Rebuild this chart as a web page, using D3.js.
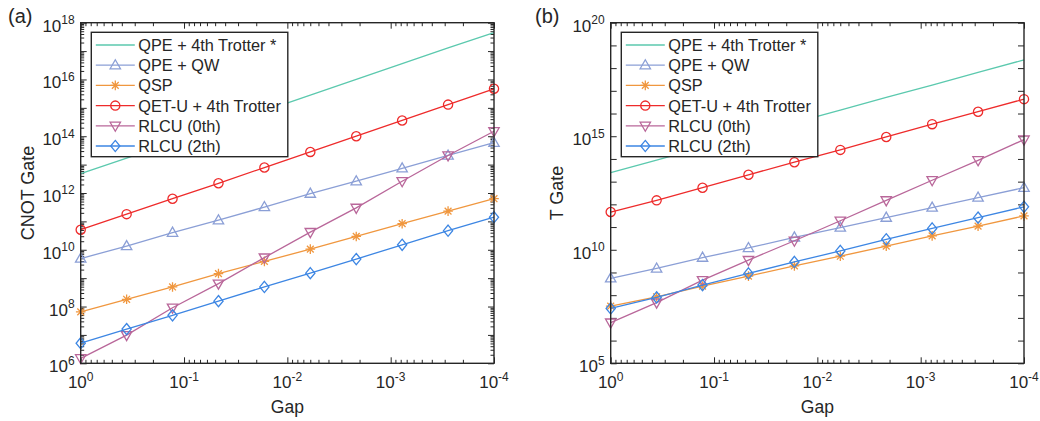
<!DOCTYPE html>
<html>
<head>
<meta charset="utf-8">
<script src="https://cdn.jsdelivr.net/npm/d3@7"></script>
<style>
  body { margin: 0; background: #fff; }
  text { font-family: "Liberation Sans", Arial, Helvetica, sans-serif; fill: #262626; }
</style>
</head>
<body>
<svg id="chart" width="1040" height="421"></svg>
<script>
// gap values (x), same for every series
const gap = [1, 0.3594, 0.1292, 0.04642, 0.01668, 0.005995, 0.002154, 0.0007743, 0.0002783, 0.0001];

const seriesNames = ["QPE + 4th Trotter *", "QPE + QW", "QSP", "QET-U + 4th Trotter", "RLCU (0th)", "RLCU (2th)"];

// (a) CNOT gate counts
const cnotQpeTrotter = [4.8e12, 1.7e13, 6.1e13, 2.2e14, 7.8e14, 2.8e15, 1.0e16, 3.6e16, 1.3e17, 4.5e17];
const cnotQpeQw      = [4.9e9, 1.35e10, 4.0e10, 1.1e11, 3.2e11, 9.5e11, 2.6e12, 7.4e12, 2.1e13, 5.9e13];
const cnotQsp        = [6.5e7, 1.8e8, 4.9e8, 1.45e9, 3.9e9, 1.05e10, 2.95e10, 8.3e10, 2.3e11, 6.3e11];
const cnotQetu       = [5.1e10, 1.8e11, 6.3e11, 2.2e12, 7.9e12, 2.8e13, 1.0e14, 3.6e14, 1.3e15, 4.7e15];
const cnotRlcu0      = [1.5e6, 9.8e6, 9.1e7, 6.4e8, 5.3e9, 4.2e10, 3.0e11, 2.6e12, 2.1e13, 1.5e14];
const cnotRlcu2      = [5.1e6, 1.6e7, 4.9e7, 1.55e8, 4.9e8, 1.5e9, 4.7e9, 1.5e10, 4.7e10, 1.4e11];

// (b) T gate counts
const tQpeTrotter = [2.5e13, 8.9e13, 3.2e14, 1.1e15, 4.0e15, 1.4e16, 5.1e16, 1.8e17, 6.5e17, 2.3e18];
const tQpeQw      = [5.5e8, 1.5e9, 4.5e9, 1.2e10, 3.5e10, 9.5e10, 2.6e11, 7.2e11, 2.0e12, 5.4e12];
const tQsp        = [3.3e7, 8.5e7, 2.5e8, 6.9e8, 1.95e9, 5.2e9, 1.45e10, 4.1e10, 1.1e11, 3.1e11];
const tQetu       = [4.6e11, 1.5e12, 5.4e12, 2.0e13, 7.2e13, 2.5e14, 9.3e14, 3.4e15, 1.2e16, 4.3e16];
const tRlcu0      = [6.2e6, 4.7e7, 4.6e8, 3.5e9, 2.5e10, 1.9e11, 1.5e12, 1.15e13, 8.7e13, 7.1e14];
const tRlcu2      = [2.6e7, 8.0e7, 2.8e8, 9.1e8, 2.9e9, 8.9e9, 2.9e10, 8.7e10, 2.6e11, 7.8e11];

// tick label exponents
const gapTickExps  = [0, -1, -2, -3, -4];
const cnotTickExps = [6, 8, 10, 12, 14, 16, 18];
const tTickExps    = [5, 10, 15, 20];

const colors  = ["#5bc9ae", "#8b9fd6", "#f0973f", "#ee2b2b", "#b9679a", "#3d86e3"];
const markers = ["none", "triUp", "star", "circle", "triDown", "diamond"];

const svg = d3.select("#chart");
const axisColor = "#262626";
const padTop = 22.7, pw = 413.3, ph = 340.6;

function markerPath(type) {
  switch (type) {
    case "triUp":   return "M0,-5.5L5.2,3.6L-5.2,3.6Z";
    case "triDown": return "M0,5.5L5.2,-3.6L-5.2,-3.6Z";
    case "diamond": return "M0,-5.6L4.6,0L0,5.6L-4.6,0Z";
    case "star":    return "M-4.8,0L4.8,0M0,-4.8L0,4.8M-3.4,-3.4L3.4,3.4M-3.4,3.4L3.4,-3.4";
    case "circle":  return "M4.6,0A4.6,4.6 0 1,1 -4.6,0A4.6,4.6 0 1,1 4.6,0Z";
  }
  return null;
}

function drawPanel(opts) {
  const g = svg.append("g").attr("transform", "translate(" + opts.left + "," + padTop + ")");

  const x = d3.scaleLog().domain([1, 1e-4]).range([0, pw]);
  const y = d3.scaleLog().domain(opts.yDomain).range([ph, 0]);

  // ticks (inward, all four sides)
  const xMajor = gapTickExps.map(e => Math.pow(10, e));
  const xMinor = x.ticks().filter(v => xMajor.indexOf(v) < 0);
  const e0 = Math.round(Math.log10(opts.yDomain[0])), e1 = Math.round(Math.log10(opts.yDomain[1]));
  const yMajor = d3.range(e0, e1 + 1).map(e => Math.pow(10, e));
  const yMinor = [];
  if (opts.yMinor) {
    d3.range(e0, e1).forEach(e => { for (let m = 2; m < 10; m++) yMinor.push(m * Math.pow(10, e)); });
  }

  function axisPart(axis, tr, vals, size) {
    const a = g.append("g").attr("transform", tr)
      .call(axis.tickValues(vals).tickSize(-size).tickSizeOuter(0).tickFormat(""));
    a.select(".domain").remove();
    a.selectAll("line").attr("stroke", axisColor).attr("stroke-width", 1);
  }
  axisPart(d3.axisBottom(x), "translate(0," + ph + ")", xMajor, 6);
  axisPart(d3.axisBottom(x), "translate(0," + ph + ")", xMinor, 3.5);
  axisPart(d3.axisTop(x), "translate(0,0)", xMajor, 6);
  axisPart(d3.axisTop(x), "translate(0,0)", xMinor, 3.5);
  axisPart(d3.axisLeft(y), "translate(0,0)", yMajor, 6);
  axisPart(d3.axisRight(y), "translate(" + pw + ",0)", yMajor, 6);
  if (yMinor.length) {
    axisPart(d3.axisLeft(y), "translate(0,0)", yMinor, 3.5);
    axisPart(d3.axisRight(y), "translate(" + pw + ",0)", yMinor, 3.5);
  }

  // series
  const line = d3.line().x(d => x(d[0])).y(d => y(d[1]));
  opts.series.forEach((vals, i) => {
    const pts = gap.map((gv, j) => [gv, vals[j]]);
    g.append("path").datum(pts)
      .attr("d", line).attr("fill", "none")
      .attr("stroke", colors[i]).attr("stroke-width", 1.3);
    const mp = markerPath(markers[i]);
    if (mp) {
      g.selectAll(null).data(pts).enter().append("path")
        .attr("transform", d => "translate(" + x(d[0]) + "," + y(d[1]) + ")")
        .attr("d", mp).attr("fill", "none")
        .attr("stroke", colors[i]).attr("stroke-width", 1.3);
    }
  });

  // box
  g.append("rect").attr("width", pw).attr("height", ph)
    .attr("fill", "none").attr("stroke", axisColor).attr("stroke-width", 1.4);

  // tick labels
  gapTickExps.forEach(e => {
    const t = g.append("text").attr("x", x(Math.pow(10, e))).attr("y", ph + 25)
      .attr("text-anchor", "middle").style("font-size", "17px").text("10");
    t.append("tspan").attr("dy", -7.5).style("font-size", "12px").text(e);
  });
  opts.yTickExps.forEach(e => {
    const t = g.append("text").attr("x", -6).attr("y", y(Math.pow(10, e)) + 9)
      .attr("text-anchor", "end").style("font-size", "17px").text("10");
    t.append("tspan").attr("dy", -7.5).style("font-size", "12px").text(e);
  });

  // axis titles
  g.append("text").attr("x", pw / 2).attr("y", ph + 50)
    .attr("text-anchor", "middle").style("font-size", "17.5px").text("Gap");
  g.append("text").attr("transform", "translate(" + opts.yTitleX + "," + (ph / 2) + ") rotate(-90)")
    .attr("text-anchor", "middle").style("font-size", "18px").text(opts.yTitle);

  // panel tag
  svg.append("text").attr("x", opts.tagX).attr("y", 23)
    .style("font-size", "20px").text(opts.tag);

  // legend
  const lg = g.append("g").attr("transform", "translate(10.6,9.6)");
  lg.append("rect").attr("width", 196.5).attr("height", 124.4)
    .attr("fill", "#fff").attr("stroke", axisColor).attr("stroke-width", 1.4);
  seriesNames.forEach((name, i) => {
    const ry = 12.7 + i * 20.2;
    lg.append("line").attr("x1", 4.5).attr("x2", 43.5).attr("y1", ry).attr("y2", ry)
      .attr("stroke", colors[i]).attr("stroke-width", 1.3);
    const mp = markerPath(markers[i]);
    if (mp) {
      lg.append("path").attr("transform", "translate(24," + ry + ")")
        .attr("d", mp).attr("fill", "none")
        .attr("stroke", colors[i]).attr("stroke-width", 1.3);
    }
    lg.append("text").attr("x", 47).attr("y", ry + 6)
      .style("font-size", "16.3px").text(name);
  });
}

drawPanel({
  left: 80.7, yDomain: [1e6, 1e18], yTickExps: cnotTickExps, yMinor: true,
  yTitle: "CNOT Gate", yTitleX: -47, tag: "(a)", tagX: 8,
  series: [cnotQpeTrotter, cnotQpeQw, cnotQsp, cnotQetu, cnotRlcu0, cnotRlcu2]
});
drawPanel({
  left: 610.7, yDomain: [1e5, 1e20], yTickExps: tTickExps, yMinor: false,
  yTitle: "T Gate", yTitleX: -48, tag: "(b)", tagX: 535,
  series: [tQpeTrotter, tQpeQw, tQsp, tQetu, tRlcu0, tRlcu2]
});
</script>
</body>
</html>
